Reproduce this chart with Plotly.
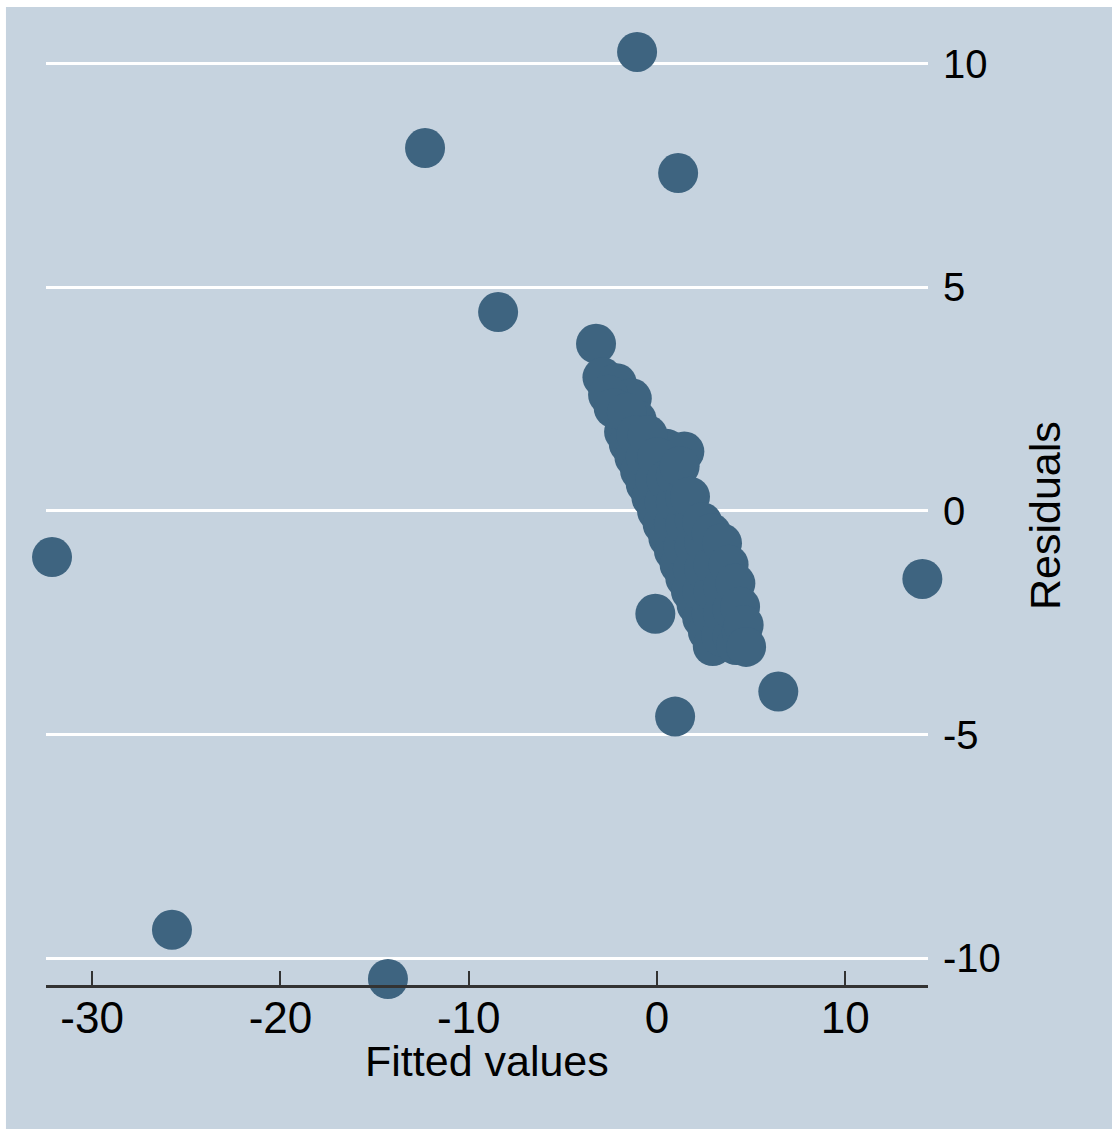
import plotly.graph_objects as go

# Residual-versus-fitted diagnostic: isolated observations
outlier_fitted = [-1.06, -12.32, 1.12, -8.44, -32.13, 14.09, -25.76, -14.29, 0.96, 6.44, -0.09]
outlier_resid = [10.27, 8.12, 7.56, 4.45, -1.03, -1.52, -9.37, -10.47, -4.60, -4.04, -2.30]

# Dense band of observations near zero fitted value
band_fitted = [
    -3.24, -2.90, -2.14, -1.34, -2.02, -1.75, -1.08, 0.51, 1.45,
    -2.60, -2.30, -1.50, -1.20, -0.90, -0.60, -0.30, 0.00, 0.30, 0.60,
    0.90, 1.20, 1.50, 1.80, 2.10, 2.40, 2.70, 2.96,
    -1.60, -1.10, -0.60, -0.10, 0.40, 0.90, 1.40, 1.90, 2.40, 2.90, 3.40,
    -0.50, 0.00, 0.50, 1.00, 1.50, 2.00, 2.50, 3.00, 3.50, 4.00, 4.20,
    1.00, 1.50, 2.00, 2.50, 3.00, 3.50, 4.00, 4.50,
    1.20, 1.75, 2.40, 2.90, 3.45, 3.80, 4.16, 4.41, 4.60, 4.73,
]
band_resid = [
    3.74, 2.99, 2.86, 2.52, 2.26, 1.77, 2.04, 1.39, 1.33,
    2.60, 2.30, 1.50, 1.20, 0.90, 0.60, 0.30, 0.00, -0.30, -0.60,
    -0.90, -1.20, -1.50, -1.80, -2.10, -2.40, -2.70, -3.02,
    2.20, 1.70, 1.20, 0.70, 0.20, -0.30, -0.80, -1.30, -1.80, -2.30, -2.80,
    1.70, 1.20, 0.70, 0.20, -0.30, -0.80, -1.30, -1.80, -2.30, -2.80, -3.00,
    0.80, 0.30, -0.20, -0.70, -1.20, -1.70, -2.20, -2.70,
    1.00, 0.32, -0.25, -0.50, -0.72, -1.20, -1.62, -2.14, -2.55, -3.04,
]

fitted = outlier_fitted + band_fitted
residuals = outlier_resid + band_resid

x_ticks = [-30, -20, -10, 0, 10]
x_tick_labels = ["-30", "-20", "-10", "0", "10"]
y_ticks = [-10, -5, 0, 5, 10]
y_tick_labels = ["-10", "-5", "0", "5", "10"]

BG = "rgb(198,211,223)"
MARK = "rgb(62,100,128)"
FONT = "Liberation Sans, Arial, sans-serif"

fig = go.Figure()
fig.add_trace(go.Scatter(
    x=fitted, y=residuals, mode="markers",
    marker=dict(size=40, color=MARK, line=dict(width=0)),
    cliponaxis=False, showlegend=False, hoverinfo="x+y",
))

fig.update_layout(
    width=1112, height=1129,
    margin=dict(l=46, r=184, t=47, b=144, pad=0),
    paper_bgcolor="white",
    plot_bgcolor="rgba(0,0,0,0)",
    font=dict(family=FONT, color="black"),
    xaxis=dict(
        range=[-32.45, 14.39], tickmode="array", tickvals=x_ticks, ticktext=x_tick_labels,
        ticks="inside", ticklen=14, tickwidth=2, tickcolor="#333333",
        showline=True, linecolor="#333333", linewidth=2.5,
        showgrid=False, zeroline=False,
        tickfont=dict(size=44, family=FONT, color="black"),
        ticklabelstandoff=-8,
    ),
    yaxis=dict(
        range=[-10.604, 10.38], side="right", tickmode="array", tickvals=y_ticks,
        ticktext=y_tick_labels, ticks="", showline=False,
        showgrid=True, gridcolor="white", gridwidth=3, zeroline=False,
        tickfont=dict(size=40, family=FONT, color="black"),
        ticklabelstandoff=14,
    ),
    shapes=[dict(
        type="rect", xref="paper", yref="paper", layer="below",
        x0=-0.0454, x1=1.3, y0=-0.2, y1=1.0426,
        fillcolor=BG, line=dict(width=0),
    )],
    annotations=[
        dict(text="Fitted values", xref="paper", yref="paper", x=0.5, y=-0.0815,
             xanchor="center", yanchor="middle", showarrow=False,
             font=dict(size=43, family=FONT, color="black")),
        dict(text="Residuals", xref="paper", yref="paper", x=1.1327, y=0.5,
             xanchor="center", yanchor="middle", textangle=-90, showarrow=False,
             font=dict(size=43, family=FONT, color="black")),
    ],
)

fig.write_html("out.html")
